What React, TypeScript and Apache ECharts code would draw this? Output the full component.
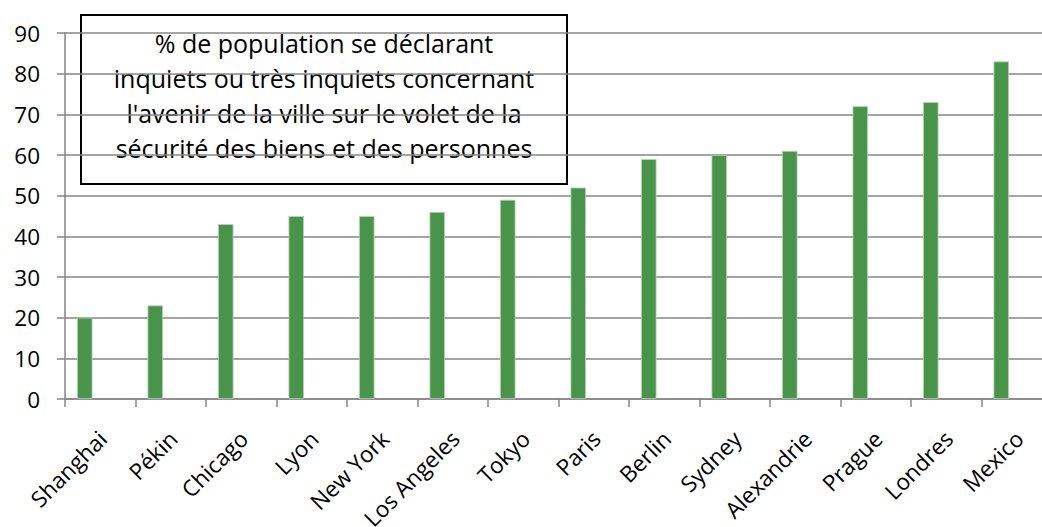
import React, { useEffect, useRef } from "react";
import * as echarts from "echarts";

const categories = [
  "Shanghai", "Pékin", "Chicago", "Lyon", "New York", "Los Angeles", "Tokyo",
  "Paris", "Berlin", "Sydney", "Alexandrie", "Prague", "Londres", "Mexico",
];
const values = [20, 23, 43, 45, 45, 46, 49, 52, 59, 60, 61, 72, 73, 83];
const emptySeries: (number | null)[] = categories.map(() => null);
const yMin = 0;
const yMax = 90;
const yInterval = 10;
const noteLines = [
  "% de population se déclarant",
  "inquiets ou très inquiets concernant",
  "l'avenir de la ville sur le volet de la",
  "sécurité des biens et des personnes",
];

const FONT = "'Open Sans', Lato, sans-serif";

export default function App() {
  const ref = useRef<HTMLDivElement>(null);
  useEffect(() => {
    if (!ref.current) return;
    const chart = echarts.init(ref.current, null, { renderer: "svg" });
    chart.setOption({
      animation: false,
      backgroundColor: "#ffffff",
      grid: {
        left: 65,
        top: 33,
        width: 987,
        height: 366,
        containLabel: false,
        outerBoundsMode: "none",
      },
      xAxis: {
        type: "category",
        data: categories,
        boundaryGap: true,
        axisLine: { show: true, lineStyle: { color: "#868686", width: 1.5 } },
        axisTick: { show: true, length: 8, alignWithLabel: false, lineStyle: { color: "#868686", width: 1.5 } },
        axisLabel: {
          rotate: 45,
          interval: 0,
          margin: 22,
          padding: [0, 8, 0, 0],
          verticalAlign: "top",
          color: "#000000",
          fontFamily: FONT,
          fontSize: 22.5,
        },
        splitLine: { show: false },
      },
      yAxis: {
        type: "value",
        min: yMin,
        max: yMax,
        interval: yInterval,
        axisLine: { show: true, lineStyle: { color: "#868686", width: 1.5 } },
        axisTick: { show: true, length: 8, inside: false, lineStyle: { color: "#868686", width: 1.5 } },
        axisLabel: { margin: 25, color: "#000000", fontFamily: FONT, fontSize: 22.5 },
        splitLine: { show: true, lineStyle: { color: "#868686", width: 1.5 } },
      },
      series: [
        {
          type: "bar",
          data: values,
          barWidth: 15.5,
          barGap: "0%",
          itemStyle: { color: "#4A934A", borderColor: "#b9d6b9", borderWidth: 0.8 },
        },
        { type: "bar", data: emptySeries, barWidth: 15.5, barGap: "0%" },
        { type: "bar", data: emptySeries, barWidth: 15.5, barGap: "0%" },
      ],
      graphic: [
        {
          type: "group",
          left: 80,
          top: 14,
          z: 100,
          children: [
            {
              type: "rect",
              shape: { x: 0, y: 0, width: 486, height: 169 },
              style: { fill: "#ffffff", stroke: "#000000", lineWidth: 2 },
            },
            {
              type: "text",
              x: 243,
              y: 10,
              style: {
                text: noteLines.join("\n"),
                textAlign: "center",
                textVerticalAlign: "top",
                fontFamily: FONT,
                fontSize: 25,
                lineHeight: 35,
                fill: "#000000",
              },
            },
          ],
        },
      ],
    });
    return () => chart.dispose();
  }, []);
  return (
    <div
      ref={ref}
      style={{ position: "fixed", left: 0, top: 0, width: 1042, height: 527, overflow: "hidden" }}
    />
  );
}
